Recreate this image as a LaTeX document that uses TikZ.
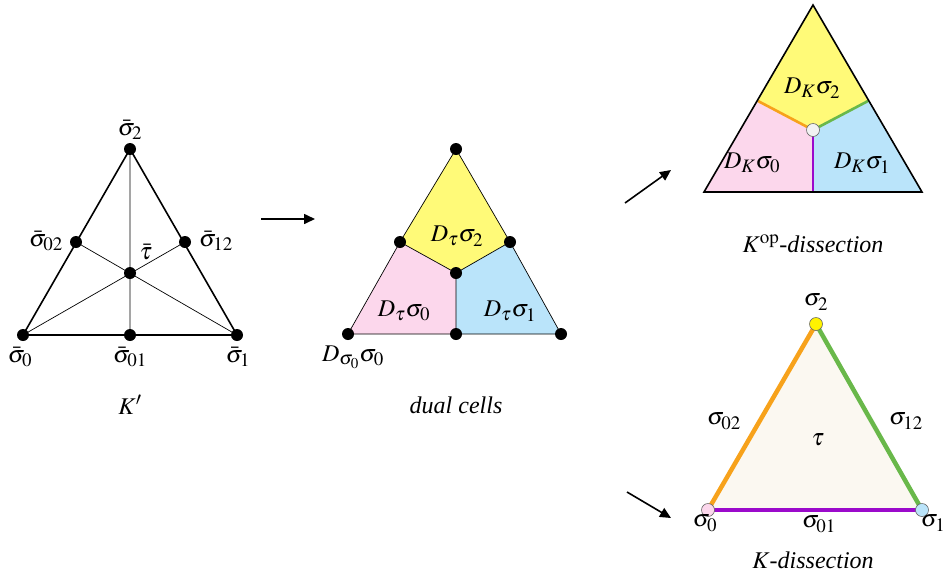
\documentclass[tikz,border=0pt]{standalone}
\usepackage{mathptmx}
\usepackage{fontspec}
\setmainfont{Liberation Serif}
\DeclareMathSizes{24}{24}{19}{15}
\usetikzlibrary{arrows.meta}
\definecolor{cyel}{HTML}{FFFA78}
\definecolor{cpink}{HTML}{FCD7EC}
\definecolor{cblue}{HTML}{BAE4FA}
\definecolor{corange}{HTML}{F7A21B}
\definecolor{cgreen}{HTML}{69B84A}
\definecolor{cpurple}{HTML}{9B0ACB}
\definecolor{ccream}{HTML}{FBF8F1}
\tikzset{
  dot/.style={circle,fill=black,inner sep=0pt,minimum size=12pt},
  lbl/.style={inner sep=1pt,font=\fontsize{24}{28}\selectfont},
  edge/.style={line width=1.6pt},
  thin edge/.style={line width=0.7pt},
  arr/.style={line width=1.6pt,-{Triangle[length=11pt,width=10pt]}},
  vcirc/.style={circle,draw=gray!80!black,line width=0.6pt,inner sep=0pt,minimum size=13pt},
  cedge/.style={line width=4.5pt},
  iedge/.style={line width=2.6pt},
}
\begin{document}
\begin{tikzpicture}[x=1pt,y=-1pt]
\useasboundingbox (0,0) rectangle (947,574);
% ---------- left: K'
\coordinate (a2) at (130,149);
\coordinate (a0) at (23,335);
\coordinate (a1) at (237,335);
\coordinate (a01) at (130,335);
\coordinate (a02) at (76,242);
\coordinate (a12) at (185,242);
\coordinate (at) at (130,273);
\draw[thin edge] (a2) -- (a01) (a0) -- (a12) (a1) -- (a02);
\draw[edge,line join=miter] (a0) -- (a1) -- (a2) -- cycle;
\foreach \p in {a0,a1,a2,a01,a02,a12,at} \node[dot] (d\p) at (\p) {};
\node[lbl,anchor=south] (la2) at (130,141) {$\bar{\sigma}_2$};
\node[lbl] (la02) at (46,241) {$\bar{\sigma}_{02}$};
\node[lbl] (la12) at (216,241) {$\bar{\sigma}_{12}$};
\node[lbl] (lat) at (146,252) {$\bar{\tau}$};
\node[lbl] (la0) at (20,357) {$\bar{\sigma}_0$};
\node[lbl] (la01) at (130,357) {$\bar{\sigma}_{01}$};
\node[lbl] (la1) at (238,357) {$\bar{\sigma}_1$};
\node[lbl] (lK) at (130,405) {$K'$};
% ---------- arrow 1
\coordinate (r1s) at (261,219);
\coordinate (r1e) at (315,219);
\draw[arr] (r1s) -- (r1e);
% ---------- middle: dual cells
\coordinate (b2) at (456,149);
\coordinate (b0) at (348,334);
\coordinate (b1) at (561,334);
\coordinate (b01) at (456,334);
\coordinate (b02) at (400,242);
\coordinate (b12) at (510,242);
\coordinate (bt) at (456,273);
\fill[cyel] (b2) -- (b12) -- (bt) -- (b02) -- cycle;
\fill[cpink] (b02) -- (bt) -- (b01) -- (b0) -- cycle;
\fill[cblue] (b12) -- (bt) -- (b01) -- (b1) -- cycle;
\draw[thin edge] (b2) -- (b12) -- (b1) -- (b0) -- (b02) -- cycle;
\draw[thin edge] (b02) -- (bt) -- (b12) (bt) -- (b01);
\foreach \p in {b0,b1,b2,b01,b02,b12,bt} \node[dot] (d\p) at (\p) {};
\node[lbl] (lb2) at (457,236) {$D_\tau\sigma_2$};
\node[lbl] (lb0) at (404,311) {$D_\tau\sigma_0$};
\node[lbl] (lb1) at (510,311) {$D_\tau\sigma_1$};
\node[lbl] (lbb) at (353,357) {$D_{\sigma_0}\sigma_0$};
\node[lbl] (ldc) at (456,405) {\textit{dual cells}};
% ---------- arrows 2,3
\coordinate (r2s) at (625,203);
\coordinate (r2e) at (671,170);
\draw[arr] (r2s) -- (r2e);
\coordinate (r3s) at (627,492);
\coordinate (r3e) at (671,518);
\draw[arr] (r3s) -- (r3e);
% ---------- top right: K^op dissection
\coordinate (c2) at (813,5);
\coordinate (c0) at (704,192);
\coordinate (c1) at (922,192);
\coordinate (c01) at (813,192);
\coordinate (c02) at (758,101);
\coordinate (c12) at (868,101);
\coordinate (ct) at (813,130);
\fill[cyel] (c2) -- (c12) -- (ct) -- (c02) -- cycle;
\fill[cpink] (c02) -- (ct) -- (c01) -- (c0) -- cycle;
\fill[cblue] (c12) -- (ct) -- (c01) -- (c1) -- cycle;
\draw[iedge,corange] (c02) -- (ct);
\draw[iedge,cgreen] (c12) -- (ct);
\draw[iedge,cpurple] (c01) -- (ct);
\draw[edge,line join=miter] (c0) -- (c1) -- (c2) -- cycle;
\node[vcirc,fill=gray!10] (dct) at (ct) {};
\node[lbl] (lc2) at (812,88) {$D_K\sigma_2$};
\node[lbl] (lc0) at (752,163) {$D_K\sigma_0$};
\node[lbl] (lc1) at (862,163) {$D_K\sigma_1$};
\node[lbl] (lkop) at (813,244) {$K^{\mathrm{op}}$\textit{-dissection}};
% ---------- bottom right: K dissection
\coordinate (e2) at (816,324);
\coordinate (e0) at (708,510);
\coordinate (e1) at (922,510);
\fill[ccream] (e0) -- (e1) -- (e2) -- cycle;
\draw[cedge,corange] (e0) -- (e2);
\draw[cedge,cgreen] (e1) -- (e2);
\draw[cedge,cpurple] (e0) -- (e1);
\node[vcirc,fill=cpink] (de0) at (e0) {};
\node[vcirc,fill=cblue] (de1) at (e1) {};
\node[vcirc,fill=yellow] (de2) at (e2) {};
\node[lbl] (le2) at (816,302) {$\sigma_2$};
\node[lbl] (le02) at (724,421) {$\sigma_{02}$};
\node[lbl] (le12) at (906,421) {$\sigma_{12}$};
\node[lbl] (let) at (818,440) {$\tau$};
\node[lbl] (le0) at (705,523) {$\sigma_0$};
\node[lbl] (le01) at (819,524) {$\sigma_{01}$};
\node[lbl] (le1) at (933,523) {$\sigma_1$};
\node[lbl] (lkd) at (813,560) {$K$\textit{-dissection}};
\end{tikzpicture}
\end{document}
